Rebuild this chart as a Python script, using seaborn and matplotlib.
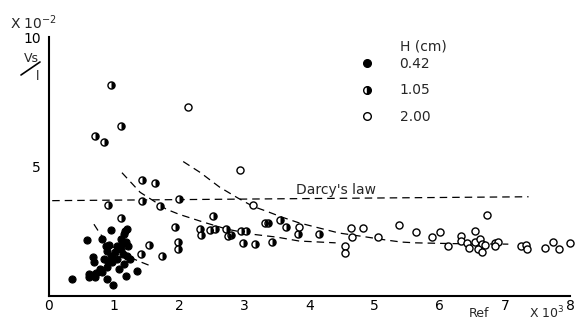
import matplotlib
matplotlib.use("Agg")
import matplotlib.pyplot as plt
import seaborn as sns
from matplotlib.markers import MarkerStyle
from matplotlib.lines import Line2D

# H = 0.42 cm (filled)
x042 = [0.36, 0.59, 0.95, 0.61, 0.67, 0.72, 0.82, 0.62, 0.70, 0.67, 0.69, 0.79,
        0.89, 0.89, 0.99, 1.07, 1.18, 1.35, 0.82, 0.87, 0.89, 0.95, 0.84, 0.97,
        1.05, 1.02, 1.05, 1.10, 1.15, 1.17, 1.20, 1.22, 1.20, 1.25, 1.15, 1.10,
        1.12, 0.92, 1.13, 1.18, 0.90]
y042 = [0.65, 2.17, 2.55, 0.85, 0.81, 0.88, 0.91, 0.72, 0.74, 1.50, 1.30, 1.04,
        1.10, 0.65, 0.44, 1.04, 0.76, 0.97, 2.19, 1.93, 1.74, 1.55, 1.42, 1.30,
        1.42, 1.68, 1.93, 2.19, 2.38, 2.51, 2.58, 1.93, 1.55, 1.42, 1.23, 1.80,
        2.05, 1.95, 1.60, 2.10, 1.30]

# H = 1.05 cm (half filled)
x105 = [0.95, 1.11, 0.70, 0.85, 1.43, 1.63, 1.43, 2.00, 1.70, 0.91, 1.10, 1.94,
        1.98, 1.98, 1.54, 1.42, 1.73, 2.52, 2.32, 2.34, 2.47, 2.55, 2.72, 2.75,
        2.80, 2.95, 3.03, 2.98, 3.16, 3.31, 3.36, 3.54, 3.64, 3.43, 3.82, 4.14]
y105 = [8.15, 6.58, 6.18, 5.96, 4.47, 4.37, 3.67, 3.73, 3.47, 3.50, 3.00, 2.65,
        2.10, 1.80, 1.96, 1.60, 1.55, 3.09, 2.60, 2.35, 2.55, 2.60, 2.60, 2.32,
        2.35, 2.49, 2.51, 2.06, 2.00, 2.80, 2.83, 2.92, 2.68, 2.09, 2.38, 2.38]

# H = 2.00 cm (open)
x200 = [2.14, 2.93, 3.13, 3.84, 4.63, 4.65, 4.55, 4.55, 4.82, 5.05, 5.37, 5.63,
        5.88, 6.00, 6.12, 6.32, 6.33, 6.42, 6.44, 6.54, 6.54, 6.61, 6.64, 6.59,
        6.65, 6.69, 6.73, 6.84, 6.89, 6.84, 7.24, 7.32, 7.33, 7.61, 7.73, 7.82, 8.00]
y200 = [7.30, 4.88, 3.50, 2.67, 2.64, 2.26, 1.91, 1.65, 2.62, 2.26, 2.73, 2.47,
        2.26, 2.45, 1.91, 2.32, 2.13, 2.06, 1.87, 2.51, 2.09, 2.19, 2.00, 1.81,
        1.70, 1.96, 3.12, 2.06, 2.09, 1.93, 1.93, 1.97, 1.81, 1.87, 2.10, 1.81, 2.06]

# dashed curves
darcy_x = [0.05, 7.36]
darcy_y = [3.68, 3.83]
curve_a_x = [0.69, 0.79, 0.95, 1.15, 1.37, 1.60]
curve_a_y = [2.77, 2.38, 1.95, 1.60, 1.35, 1.12]
curve_b_x = [1.12, 1.40, 1.60, 1.80, 2.00, 2.37, 2.73, 3.13, 3.50, 3.84, 4.40]
curve_b_y = [4.76, 4.00, 3.68, 3.35, 3.15, 2.85, 2.58, 2.38, 2.27, 2.12, 2.05]
curve_c_x = [2.06, 2.32, 2.62, 2.90, 3.13, 3.34, 3.58, 3.84, 4.45, 4.86, 5.17, 5.41, 5.63, 6.20, 7.05]
curve_c_y = [5.19, 4.77, 4.20, 3.78, 3.46, 3.27, 3.04, 2.82, 2.43, 2.28, 2.16, 2.08, 2.05, 2.02, 2.00]

legend_labels = ["0.42", "1.05", "2.00"]

sns.set_style("white")
plt.rcParams['font.family'] = ['DejaVu Sans']

fig = plt.figure(figsize=(5.76, 3.22), dpi=100)
ax = fig.add_axes([0.085, 0.081, 0.905, 0.804])

dash = (0, (6, 4))
for cx, cy in [(darcy_x, darcy_y), (curve_a_x, curve_a_y),
               (curve_b_x, curve_b_y), (curve_c_x, curve_c_y)]:
    sns.lineplot(x=cx, y=cy, ax=ax, sort=False, estimator=None, color='black',
                 lw=0.9, linestyle=dash)

ms = 26
sns.scatterplot(x=x042, y=y042, ax=ax, color='black', edgecolor='black',
                s=ms, linewidth=0.8, zorder=3, clip_on=False)
sns.scatterplot(x=x105, y=y105, ax=ax, color='white', edgecolor='black',
                s=ms, linewidth=1.0, zorder=3, clip_on=False)
sns.scatterplot(x=x105, y=y105, ax=ax, color='black', linewidth=0,
                marker=MarkerStyle('o', fillstyle='right'), s=ms, zorder=4, clip_on=False)
sns.scatterplot(x=x200, y=y200, ax=ax, color='white', edgecolor='black',
                s=ms, linewidth=1.0, zorder=3, clip_on=False)

ax.set_xlim(0, 8)
ax.set_ylim(0, 10)
ax.set_xticks(range(0, 9))
ax.set_yticks([5, 10])
ax.set_yticks(range(1, 10), minor=True)
ax.tick_params(axis='both', which='both', direction='in', labelsize=10,
               width=1.2, color='black', labelcolor='black')
ax.tick_params(axis='x', length=4, pad=2)
ax.tick_params(axis='y', which='both', length=5, pad=6)
for s in ['top', 'right']:
    ax.spines[s].set_visible(False)
for s in ['left', 'bottom']:
    ax.spines[s].set_color('black')
    ax.spines[s].set_linewidth(1.5)
ax.set_xlabel('')
ax.set_ylabel('')

ax.text(3.79, 4.09, "Darcy's law", fontsize=10, va='center', ha='left')

# legend
handles = [
    Line2D([], [], marker='o', linestyle='', markersize=5.5, markerfacecolor='black',
           markeredgecolor='black'),
    Line2D([], [], marker='o', linestyle='', markersize=5.5, fillstyle='right',
           markerfacecolor='black', markerfacecoloralt='white', markeredgecolor='black'),
    Line2D([], [], marker='o', linestyle='', markersize=5.5, markerfacecolor='white',
           markeredgecolor='black'),
]
ax.legend(handles=handles, labels=legend_labels, loc='upper left',
          bbox_to_anchor=(360 / 576, 1 - 57 / 322), bbox_transform=fig.transFigure,
          frameon=False, fontsize=10, handlelength=1.0, handletextpad=1.85,
          labelspacing=0.9, borderpad=0, borderaxespad=0)
fig.text(400 / 576, 1 - 46 / 322, "H (cm)", fontsize=10, va='center', ha='left')

# axis annotations
fig.text(10 / 576, 1 - 23 / 322, "X 10$^{-2}$", fontsize=10, va='center', ha='left')
fig.text(31 / 576, 1 - 59 / 322, "Vs", fontsize=9, va='center', ha='center')
fig.text(38 / 576, 1 - 77 / 322, "l", fontsize=9, va='center', ha='center')
fig.add_artist(Line2D([21 / 576, 40 / 576], [1 - 75 / 322, 1 - 62 / 322],
                      color='black', lw=1.2, transform=fig.transFigure))
fig.text(479 / 576, 2 / 322, "Ref", fontsize=9, va='bottom', ha='center')
fig.text(564 / 576, 1 / 322, "X 10$^{3}$", fontsize=9, va='bottom', ha='right')

fig.savefig('out.png', dpi=100)
